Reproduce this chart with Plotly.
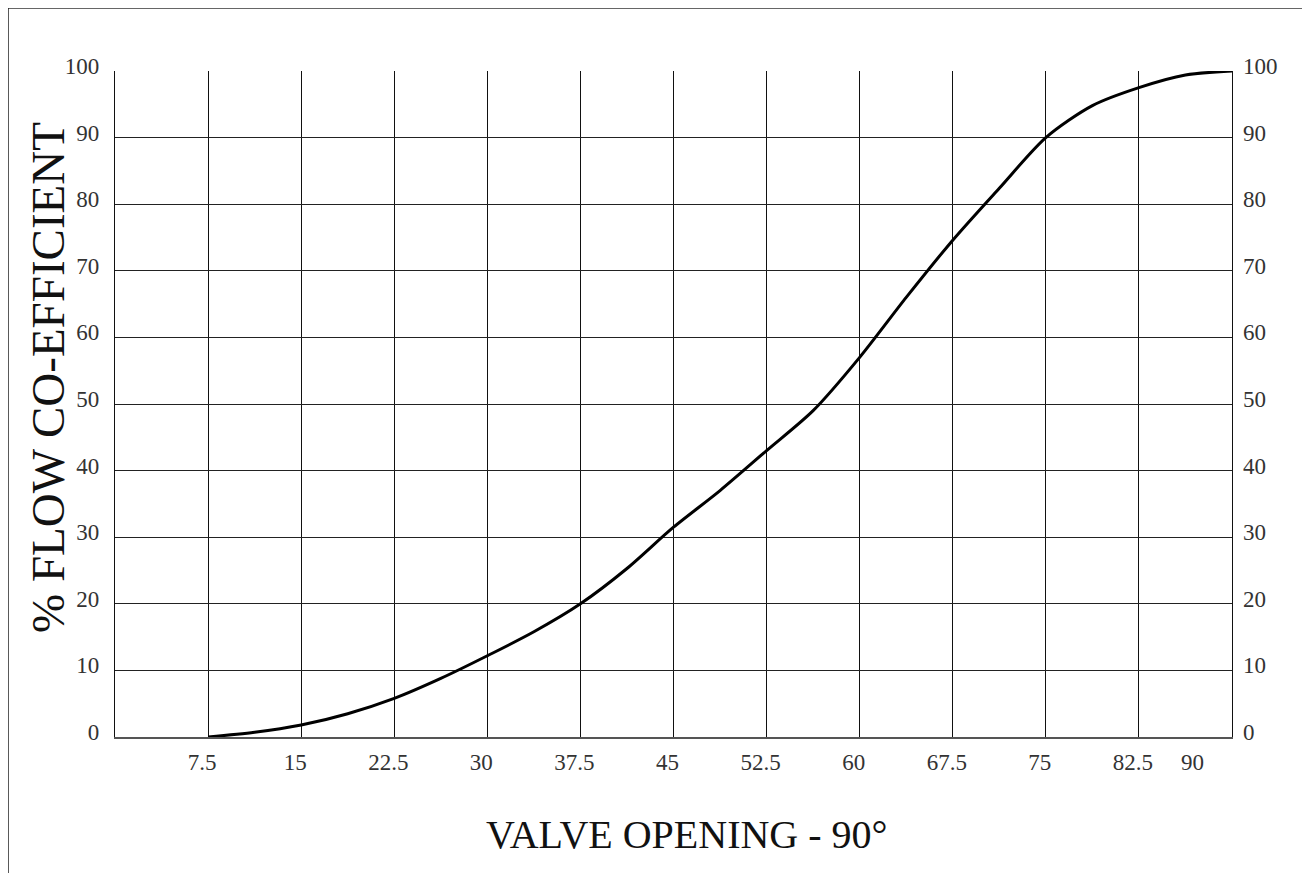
import plotly.graph_objects as go

# Data
valve_opening = [7.5, 11.25, 15, 18.75, 22.5, 26.25, 30, 33.75, 37.5, 41.25, 45,
                 48.75, 52.5, 56.25, 60, 63.75, 67.5, 71.25, 75, 78.75, 82.5, 86.25, 90]
flow_coeff = [0, 0.7, 1.8, 3.5, 5.8, 8.8, 12.2, 15.8, 20.0, 25.3, 31.5,
              37.0, 43.0, 49.0, 57.0, 66.0, 74.6, 82.4, 90.0, 94.8, 97.5, 99.4, 100]

x_grid = [7.5, 15, 22.5, 30, 37.5, 45, 52.5, 60, 67.5, 75, 82.5]
x_label_vals = [7.5, 15, 22.5, 30, 37.5, 45, 52.5, 60, 67.5, 75, 82.5, 87.3]
x_label_text = ["7.5", "15", "22.5", "30", "37.5", "45", "52.5", "60", "67.5", "75", "82.5", "90"]
y_ticks = [0, 10, 20, 30, 40, 50, 60, 70, 80, 90, 100]

FONT = "Liberation Serif"
OFF = 8  # page body margin
W, H = 1310 - OFF, 873 - OFF
L, R, T, B = 115 - OFF, 78, 71 - OFF, 136
pw, ph = W - L - R, H - T - B

def px_x(p):
    return (p - OFF - L) / pw

def px_y(p):
    return (H - B - (p - OFF)) / ph

fig = go.Figure()
fig.add_trace(go.Scatter(x=valve_opening, y=flow_coeff, mode="lines",
                         line=dict(color="black", width=3, shape="spline", smoothing=0.8),
                         showlegend=False, hoverinfo="x+y"))
fig.add_trace(go.Scatter(x=valve_opening, y=flow_coeff, mode="lines", yaxis="y2",
                         line=dict(color="rgba(0,0,0,0)", width=0),
                         showlegend=False, hoverinfo="skip"))

fig.update_layout(
    width=W, height=H,
    margin=dict(l=L, r=R, t=T, b=B),
    paper_bgcolor="white", plot_bgcolor="white",
    font=dict(family=FONT, color="#222"),
    xaxis=dict(range=[0, 90], tickmode="array", tickvals=x_label_vals, ticktext=x_label_text,
               showgrid=False, zeroline=False, ticks="", showline=True, linecolor="#555",
               linewidth=2, mirror=False, tickfont=dict(family=FONT, size=23, color="#333"),
               ticklabelstandoff=3, ticklabelshift=-6,
               minor=dict(tickmode="array", tickvals=x_grid, showgrid=True,
                          gridcolor="#111", gridwidth=1.2, ticks="")),
    yaxis=dict(range=[0, 100], tickmode="array", tickvals=y_ticks,
               showgrid=True, gridcolor="#222", gridwidth=1.3, zeroline=False, ticks="",
               showline=True, linecolor="#111", linewidth=1.2, mirror=True,
               tickfont=dict(family=FONT, size=23, color="#333"), ticklabelstandoff=10,
               ticklabelshift=-5),
    yaxis2=dict(range=[0, 100], tickmode="array", tickvals=y_ticks, overlaying="y",
                side="right", showgrid=False, zeroline=False, ticks="", showline=False,
                tickfont=dict(family=FONT, size=23, color="#333"), ticklabelstandoff=10,
                ticklabelshift=-5),
)

fig.add_annotation(text="% FLOW CO-EFFICIENT", xref="paper", yref="paper",
                   x=px_x(48), y=px_y(378), textangle=-90, showarrow=False,
                   xanchor="center", yanchor="middle",
                   font=dict(family=FONT, size=47, color="#111"))
fig.add_annotation(text="VALVE OPENING - 90°", xref="paper", yref="paper",
                   x=px_x(687), y=px_y(835), showarrow=False,
                   xanchor="center", yanchor="middle",
                   font=dict(family=FONT, size=40, color="#111"))

# outer frame (top and left edges)
fig.add_shape(type="line", xref="paper", yref="paper", x0=px_x(8), x1=px_x(1310),
              y0=px_y(8), y1=px_y(8), line=dict(color="#333", width=1.5))
fig.add_shape(type="line", xref="paper", yref="paper", x0=px_x(8), x1=px_x(8),
              y0=px_y(8), y1=px_y(873), line=dict(color="#222", width=1.5))

fig.write_html("out.html")
